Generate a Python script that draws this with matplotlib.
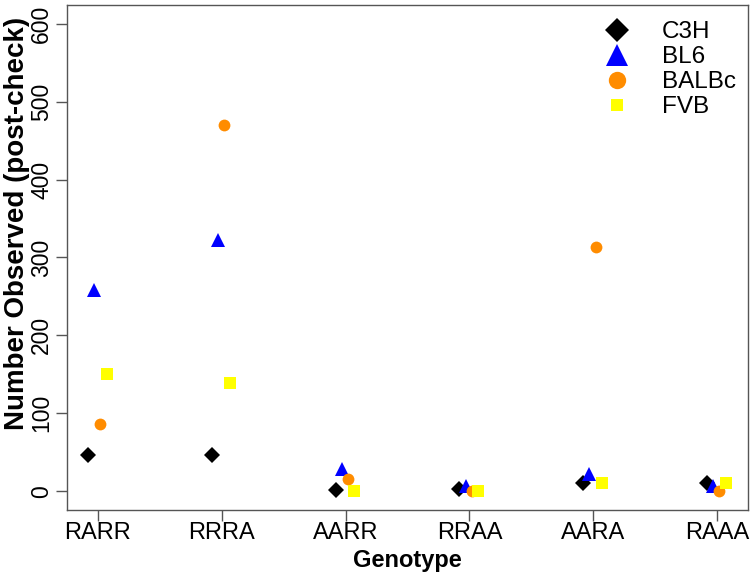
import matplotlib.pyplot as plt
from matplotlib.lines import Line2D
import numpy as np

plt.rcParams['font.family'] = ['Liberation Sans', 'DejaVu Sans']

# Data.
GENOTYPES = ["RARR", "RRRA", "AARR", "RRAA", "AARA", "RAAA"]
C3H = [47, 46, 2, 3, 10, 11]
BL6 = [258, 323, 28, 7, 22, 7]
BALBC = [86, 470, 16, 0, 313, 0]
FVB = [151, 139, 0, 0, 10, 11]

# name, values, marker, colour, size in plot, size in legend, x offset
SERIES = [
    ("C3H", C3H, "D", "black", 8, 12, -0.08),
    ("BL6", BL6, "^", "#0000ff", 9.5, 16, -0.03),
    ("BALBc", BALBC, "o", "#ff8c00", 8.5, 12.5, 0.02),
    ("FVB", FVB, "s", "#ffff00", 8.5, 9, 0.07),
]

fig = plt.figure(figsize=(7.5, 5.72), dpi=100)
ax = fig.add_axes([0.0893, 0.1084, 0.908, 0.8829])

x = np.arange(1, len(GENOTYPES) + 1)
handles = []
for name, vals, marker, color, size, lsize, dx in SERIES:
    ax.plot(x + dx, vals, linestyle="none", marker=marker, color=color,
            markersize=size, markeredgewidth=0)
    handles.append(Line2D([], [], linestyle="none", marker=marker, color=color,
                          markersize=lsize, markeredgewidth=0, label=name))

ax.set_xlim(0.75, 6.25)
ax.set_ylim(-24, 624)
ax.set_xticks(x)
ax.set_xticklabels(GENOTYPES)
ax.set_yticks(range(0, 601, 100))
ax.tick_params(axis="both", labelsize=17, length=8, width=1, color="#555555", direction="out")
ax.tick_params(axis="x", pad=1)
ax.tick_params(axis="y", labelsize=16.5, pad=2)
for lbl in ax.get_yticklabels():
    lbl.set_rotation(90)
    lbl.set_va("center")
for sp in ax.spines.values():
    sp.set_color("#555555")
    sp.set_linewidth(1)

ax.set_xlabel("Genotype", fontsize=17, fontweight="bold", labelpad=3)
ax.set_ylabel("Number Observed (post-check)", fontsize=20, fontweight="bold")
ax.yaxis.set_label_coords(-0.055, 0.568)

ax.legend(handles=handles, loc="upper right", bbox_to_anchor=(0.997, 0.987),
          frameon=False, fontsize=17.5, handletextpad=1.15, labelspacing=0.12,
          borderaxespad=0, handlelength=1.4)

fig.savefig("out.png", dpi=100)
